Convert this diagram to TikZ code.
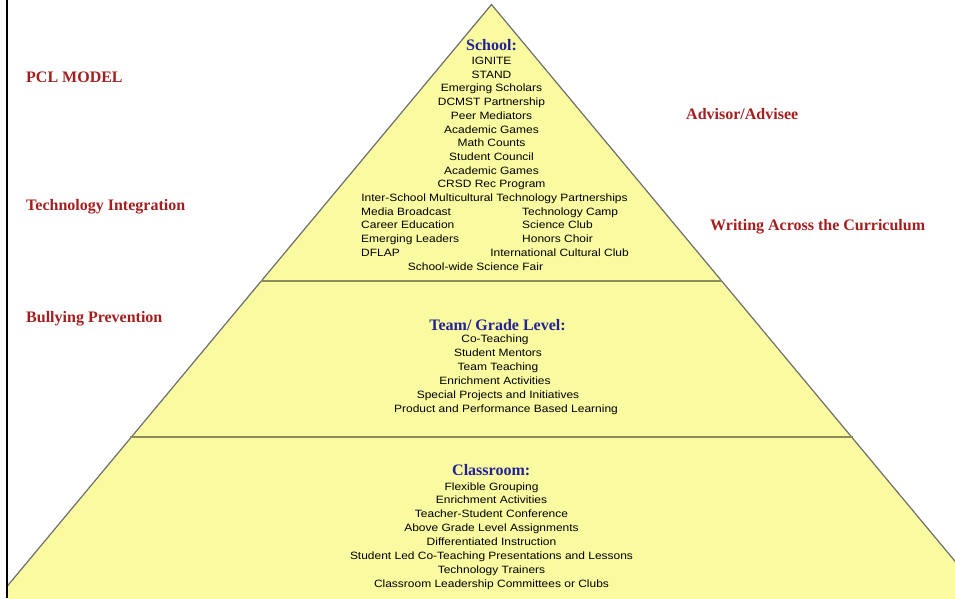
\documentclass[tikz,border=0pt]{standalone}
\usepackage{fontspec}
\setmainfont{Liberation Serif}
\newfontfamily\itemfont[FakeStretch=1.13]{Liberation Sans}

\definecolor{pyrfill}{RGB}{250,250,160}
\definecolor{pyredge}{RGB}{110,110,110}
\definecolor{tierline}{RGB}{140,140,90}
\definecolor{tierblue}{RGB}{34,34,150}
\definecolor{themered}{RGB}{163,31,31}

\begin{document}
\begin{tikzpicture}[x=1pt,y=-1pt,
  item/.style={anchor=base, inner sep=0pt, text=black,
    font=\itemfont\fontsize{10.6}{12}\selectfont},
  tier/.style={anchor=base, inner sep=0pt, text=tierblue,
    font=\bfseries\fontsize{16}{19}\selectfont},
  theme/.style={anchor=base west, inner sep=0pt, text=themered,
    font=\bfseries\fontsize{16}{19}\selectfont}]

\useasboundingbox (0,0) rectangle (955,598);

% pyramid, cut off by the page frame on the left, right and bottom
\begin{scope}
  \clip (7,0) rectangle (955,598);
  \fill[pyrfill] (491.5,4.5) -- (987.3,600) -- (-4.3,600) -- cycle;
  \draw[pyredge, line width=1.2pt, line join=miter]
    (-4.3,600) -- (491.5,4.5) -- (987.3,600);
  % tier dividers
  \draw[tierline, line width=1.4pt] (261,281) -- (722,281);
  \draw[tierline, line width=1.4pt] (130,437) -- (853,437);
\end{scope}

% frame line on the left
\draw[black, line width=1.3pt] (7,0) -- (7,598);

% themes around the pyramid
\node[theme] (pcl)  at (26,82)    {PCL MODEL};
\node[theme] (tech) at (26,210.5) {Technology Integration};
\node[theme] (bull) at (26,322)   {Bullying Prevention};
\node[theme] (adv)  at (686,119)  {Advisor/Advisee};
\node[theme] (wac)  at (710,230.5){Writing Across the Curriculum};

% top tier: school
\node[tier] (school) at (491.5,50) {School:};
\foreach \t [count=\i] in {IGNITE, STAND, Emerging Scholars,
    DCMST Partnership, Peer Mediators, Academic Games, Math Counts,
    Student Council, Academic Games, CRSD Rec Program}
  \node[item] (s\i) at (491.5,{64.5+13.7*(\i-1)}) {\t};
\node[item] (s11) at (494.5,201.5) {Inter-School Multicultural Technology Partnerships};
\node[item, anchor=base west] (s12a) at (361,215.2) {Media Broadcast};
\node[item, anchor=base west] (s12b) at (522,215.2) {Technology Camp};
\node[item, anchor=base west] (s13a) at (361,228.9) {Career Education};
\node[item, anchor=base west] (s13b) at (522,228.9) {Science Club};
\node[item, anchor=base west] (s14a) at (361,242.6) {Emerging Leaders};
\node[item, anchor=base west] (s14b) at (522,242.6) {Honors Choir};
\node[item, anchor=base west] (s15a) at (361,256.3) {DFLAP};
\node[item, anchor=base east] (s15b) at (629,256.3) {International Cultural Club};
\node[item] (s16) at (475.5,270) {School-wide Science Fair};

% middle tier: team / grade level
\node[tier] (team) at (497.5,330.5) {Team/ Grade Level:};
\node[item] (t1) at (495,342.7) {Co-Teaching};
\node[item] (t2) at (498,356.7) {Student Mentors};
\node[item] (t3) at (498,370.7) {Team Teaching};
\node[item] (t4) at (495,384.3) {Enrichment Activities};
\node[item] (t5) at (498,398.3) {Special Projects and Initiatives};
\node[item] (t6) at (506,412.3) {Product and Performance Based Learning};

% bottom tier: classroom
\node[tier] (class) at (491.2,475) {Classroom:};
\foreach \t [count=\i] in {Flexible Grouping, Enrichment Activities,
    Teacher-Student Conference, Above Grade Level Assignments,
    Differentiated Instruction,
    Student Led Co-Teaching Presentations and Lessons,
    Technology Trainers, Classroom Leadership Committees or Clubs}
  \node[item] (c\i) at (491.5,{490+13.93*(\i-1)}) {\t};
\end{tikzpicture}
\end{document}
